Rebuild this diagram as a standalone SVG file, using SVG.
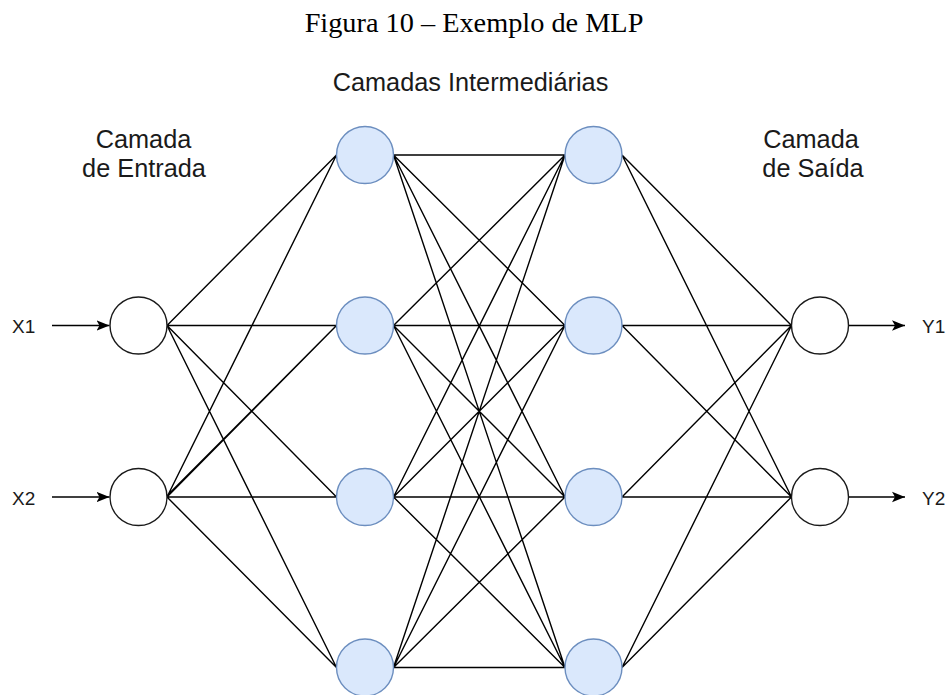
<svg xmlns="http://www.w3.org/2000/svg" width="946" height="695" viewBox="0 0 946 695">
<style>
.e{stroke:#000;stroke-width:1.4;fill:none}
.io{fill:#fff;stroke:#1a1a1a;stroke-width:1.4}
.hid{fill:#dae8fc;stroke:#6c8ebf;stroke-width:1.4}
.lbl{font-family:"Liberation Sans",Arial,sans-serif;font-size:25.3px;fill:#1a1a1a;text-anchor:middle}
.sm{font-family:"Liberation Sans",Arial,sans-serif;font-size:19px;fill:#1a1a1a}
.title{font-family:"Liberation Serif","Times New Roman",serif;font-size:28.3px;fill:#000;text-anchor:middle}
</style>
<defs>
<marker id="arr" viewBox="0 0 13 12" refX="13" refY="6" markerWidth="13" markerHeight="12" markerUnits="userSpaceOnUse" orient="auto">
<path d="M0,0.8 L13,6 L0,11.2 L3,6 Z" fill="#000"/>
</marker>
</defs>
<rect width="946" height="695" fill="#fff"/>
<text class="title" x="474" y="32">Figura 10 – Exemplo de MLP</text>
<g id="connectors">
<line class="e" x1="52" y1="325.5" x2="109.5" y2="325.5" marker-end="url(#arr)"/>
<line class="e" x1="52" y1="497" x2="109.5" y2="497" marker-end="url(#arr)"/>
<line class="e" x1="849" y1="325.5" x2="905" y2="325.5" marker-end="url(#arr)"/>
<line class="e" x1="849" y1="497" x2="905" y2="497" marker-end="url(#arr)"/>
<path class="e" d="M167,325.5 L336.5,155 M167,325.5 L336.5,325.5 M167,325.5 L336.5,497 M167,325.5 L336.5,667.5
M167,497 L336.5,155 M167,497 L336.5,325.5 M167,495.8 L336.5,325.5 M167,497 L336.5,497 M167,497 L336.5,667.5"/>
<path class="e" d="M393.5,155 L565,155 M393.5,155 L565,325.5 M393.5,155 L565,497 M393.5,155 L565,667.5
M393.5,325.5 L565,155 M393.5,325.5 L565,325.5 M393.5,325.5 L565,497 M393.5,325.5 L565,667.5
M393.5,497 L565,155 M393.5,497 L565,325.5 M393.5,497 L565,497 M393.5,497 L565,667.5
M393.5,667.5 L565,155 M393.5,667.5 L565,325.5 M393.5,667.5 L565,497 M393.5,667.5 L565,667.5"/>
<path class="e" d="M622,155 L791.5,325.5 M622,155 L791.5,497 M622,325.5 L791.5,325.5 M622,325.5 L791.5,497
M622,497 L791.5,325.5 M622,497 L791.5,497 M622,667.5 L791.5,325.5 M622,667.5 L791.5,497"/>
</g>
<g id="in1"><circle class="io" cx="138.5" cy="325.5" r="28.5"/></g>
<g id="in2"><circle class="io" cx="138.5" cy="497" r="28.5"/></g>
<g id="h1a"><circle class="hid" cx="365" cy="155" r="28.5"/></g>
<g id="h1b"><circle class="hid" cx="365" cy="325.5" r="28.5"/></g>
<g id="h1c"><circle class="hid" cx="365" cy="497" r="28.5"/></g>
<g id="h1d"><circle class="hid" cx="365" cy="667.5" r="28.5"/></g>
<g id="h2a"><circle class="hid" cx="593.5" cy="155" r="28.5"/></g>
<g id="h2b"><circle class="hid" cx="593.5" cy="325.5" r="28.5"/></g>
<g id="h2c"><circle class="hid" cx="593.5" cy="497" r="28.5"/></g>
<g id="h2d"><circle class="hid" cx="593.5" cy="667.5" r="28.5"/></g>
<g id="out1"><circle class="io" cx="820" cy="325.5" r="28.5"/></g>
<g id="out2"><circle class="io" cx="820" cy="497" r="28.5"/></g>
<g id="labels">
<text class="lbl" x="470.5" y="91">Camadas Intermediárias</text>
<text class="lbl" x="143.5" y="148">Camada</text>
<text class="lbl" x="144" y="177">de Entrada</text>
<text class="lbl" x="811" y="148">Camada</text>
<text class="lbl" x="813" y="177">de Saída</text>
<text class="sm" x="12" y="333">X1</text>
<text class="sm" x="12" y="505">X2</text>
<text class="sm" x="922" y="333">Y1</text>
<text class="sm" x="922" y="505">Y2</text>
</g>
</svg>
